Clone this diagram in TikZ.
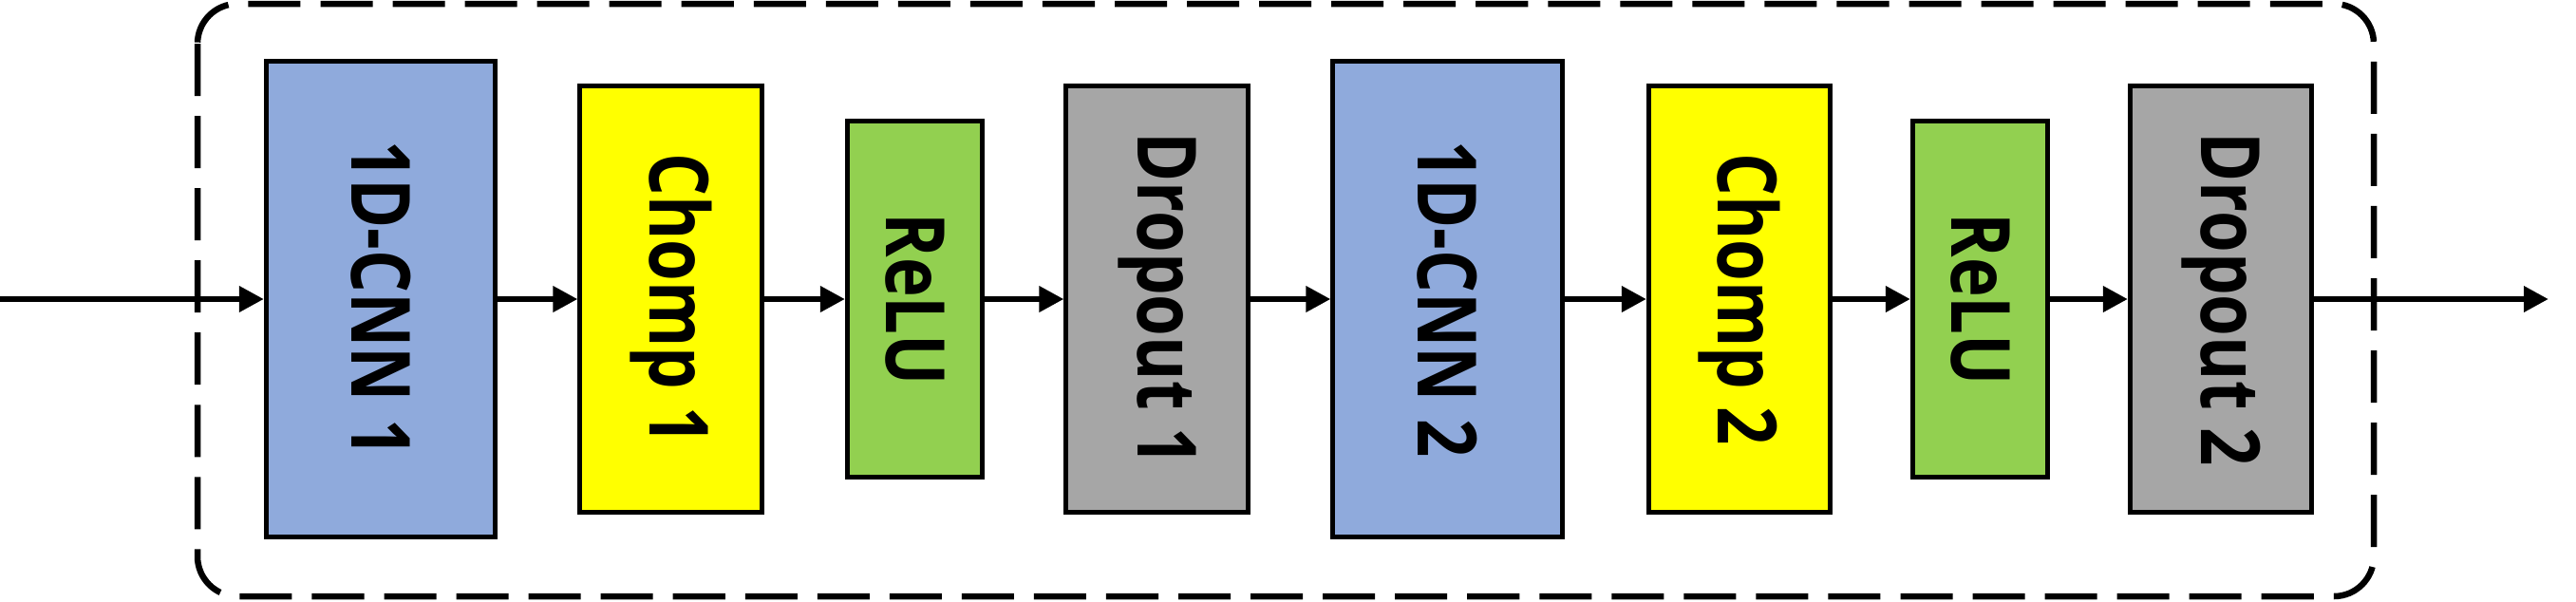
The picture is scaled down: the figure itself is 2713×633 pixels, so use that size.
\documentclass[tikz,border=0pt]{standalone}
\usepackage{fontspec}
\setmainfont{Open Sans}
\usetikzlibrary{arrows.meta}
\definecolor{cnnblue}{HTML}{8FAADC}
\definecolor{chompyellow}{HTML}{FFFF00}
\definecolor{relugreen}{HTML}{92D050}
\definecolor{dropgray}{HTML}{A6A6A6}
\newcommand{\vlbl}[1]{\rotatebox{-90}{\scalebox{0.82}[1]{#1}}}
\begin{document}
\begin{tikzpicture}[x=0.01cm,y=-0.01cm,
  blk/.style={draw=black, line width=1.42pt, inner sep=0pt,
    font=\fontsize{24.5}{28}\selectfont\bfseries},
  cnnbox/.style={blk, fill=cnnblue, minimum width=2.41cm, minimum height=5.0cm},
  chompbox/.style={blk, fill=chompyellow, minimum width=1.91cm, minimum height=4.49cm},
  relubox/.style={blk, fill=relugreen, minimum width=1.42cm, minimum height=3.74cm},
  dropbox/.style={blk, fill=dropgray, minimum width=1.91cm, minimum height=4.49cm},
  conn/.style={-{Triangle[length=0.26cm,width=0.26cm]}, line width=1.85pt},
  frame/.style={line width=1.85pt, dash pattern=on 0.55cm off 0.21cm, rounded corners=0.42cm}]
\useasboundingbox (0,0) rectangle (2713,633);
\draw[frame] (208,4) rectangle (2500,628);
\node[cnnbox]   (c1) at (401,315)    {\vlbl{1D-CNN 1}};
\node[chompbox] (h1) at (706.5,315)  {\vlbl{Chomp 1}};
\node[relubox]  (r1) at (963.5,315)  {\vlbl{ReLU}};
\node[dropbox]  (d1) at (1218.5,315) {\vlbl{Dropout 1}};
\node[cnnbox]   (c2) at (1524.5,315) {\vlbl{1D-CNN 2}};
\node[chompbox] (h2) at (1832,315)   {\vlbl{Chomp 2}};
\node[relubox]  (r2) at (2085.5,315) {\vlbl{ReLU}};
\node[dropbox]  (d2) at (2339,315)   {\vlbl{Dropout 2}};
\coordinate (in) at (0,315);
\coordinate (out) at (2684,315);
\draw[conn] (in) -- (c1);
\draw[conn] (c1) -- (h1);
\draw[conn] (h1) -- (r1);
\draw[conn] (r1) -- (d1);
\draw[conn] (d1) -- (c2);
\draw[conn] (c2) -- (h2);
\draw[conn] (h2) -- (r2);
\draw[conn] (r2) -- (d2);
\draw[conn] (d2) -- (out);
\end{tikzpicture}
\end{document}
